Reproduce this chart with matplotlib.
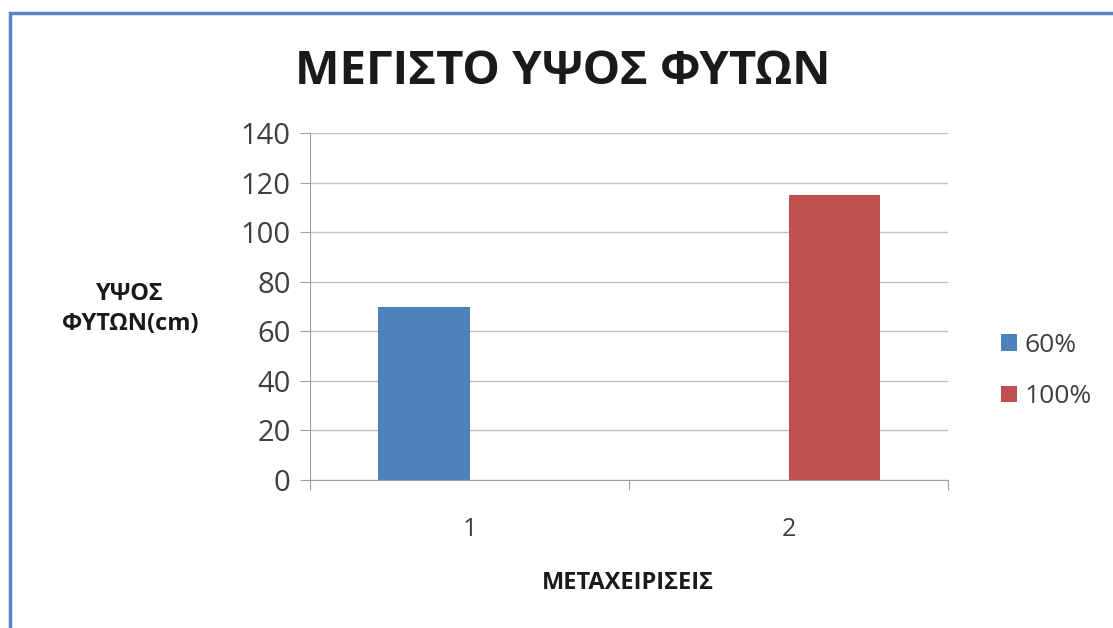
import numpy as np
import matplotlib.pyplot as plt
from matplotlib.patches import Rectangle

plt.rcParams['font.family'] = ['Open Sans', 'DejaVu Sans']

# data
categories = ["1", "2"]
series_names = ["60%", "100%"]
values_60 = [70, 0]
values_100 = [0, 115]
colors = ["#4F81BD", "#C0504D"]

fig = plt.figure(figsize=(11.13, 6.28), dpi=100)
ax = fig.add_axes([310 / 1113, 1 - 480 / 628, 638 / 1113, 347 / 628])

centers = np.arange(len(categories)) + 0.5
w = 1 / 3.5
ax.bar(centers - w / 2, values_60, width=w, color=colors[0], label=series_names[0])
ax.bar(centers + w / 2, values_100, width=w, color=colors[1], label=series_names[1])

ax.set_xlim(0, len(categories))
ax.set_ylim(0, 140)
ax.set_yticks(np.arange(0, 141, 20))
ax.yaxis.grid(True, color="#BFBFBF", lw=1)
ax.set_axisbelow(True)

ax.set_xticks(np.arange(len(categories) + 1))
ax.set_xticklabels([])
ax.set_xticks(centers, minor=True)
ax.set_xticklabels(categories, minor=True)
ax.tick_params(axis="x", which="minor", length=0, pad=27, labelsize=18, labelcolor="#404040")
ax.tick_params(axis="x", which="major", length=7, color="#A0A0A0")
ax.tick_params(axis="y", length=7, color="#A0A0A0", labelsize=21, labelcolor="#404040", pad=7)

for s in ["top", "right"]:
    ax.spines[s].set_visible(False)
for s in ["left", "bottom"]:
    ax.spines[s].set_color("#A0A0A0")

fig.text(563 / 1113, 1 - 72 / 628, "ΜΕΓΙΣΤΟ ΥΨΟΣ ΦΥΤΩΝ", ha="center", va="center",
         fontsize=34, fontweight="bold", color="#1a1a1a")
fig.text(130 / 1113, 1 - 309 / 628, "ΥΨΟΣ\nΦΥΤΩΝ(cm)", ha="center", va="center",
         fontsize=17, fontweight="bold", color="#1a1a1a", linespacing=1.35)
fig.text(628 / 1113, 1 - 583 / 628, "ΜΕΤΑΧΕΙΡΙΣΕΙΣ", ha="center", va="center",
         fontsize=17, fontweight="bold", color="#1a1a1a")

leg = ax.legend(loc="center left", bbox_to_anchor=(988 / 1113, 1 - 371 / 628),
                bbox_transform=fig.transFigure, frameon=False, fontsize=19,
                handlelength=0.6, handleheight=0.6, handletextpad=0.3, labelspacing=1.0,
                borderpad=0, labelcolor="#404040")

fig.patches.append(Rectangle((10 / 1113, -0.05), 1.1, 1 - 13 / 628 + 0.05,
                             transform=fig.transFigure, fill=False,
                             edgecolor="#5B83C9", lw=2.5))

fig.savefig("out.png", dpi=100)
